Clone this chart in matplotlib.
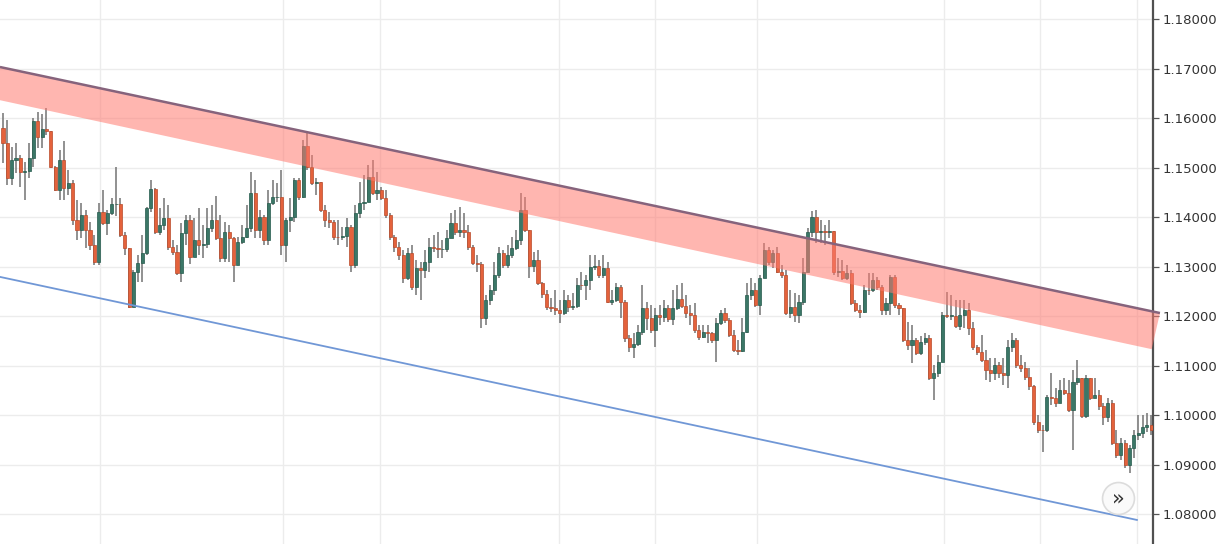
import numpy as np
import matplotlib
matplotlib.use("Agg")
import matplotlib.pyplot as plt
from matplotlib.patches import Polygon

# daily candles (open = previous close)
first_open = 1.1580
closes = [
    1.1550, 1.1479, 1.1515, 1.1519, 1.1491, 1.1493, 1.1519, 1.1594, 1.1562, 1.1578,
    1.1574, 1.1501, 1.1455, 1.1515, 1.1459, 1.1469, 1.1394, 1.1374, 1.1404, 1.1374,
    1.1344, 1.1309, 1.1410, 1.1388, 1.1408, 1.1426, 1.1427, 1.1364, 1.1337, 1.1218,
    1.1289, 1.1307, 1.1327, 1.1418, 1.1457, 1.1370, 1.1384, 1.1398, 1.1340, 1.1329,
    1.1287, 1.1368, 1.1394, 1.1319, 1.1354, 1.1344, 1.1346, 1.1378, 1.1394, 1.1358,
    1.1317, 1.1370, 1.1358, 1.1303, 1.1350, 1.1360, 1.1378, 1.1449, 1.1374, 1.1400,
    1.1354, 1.1428, 1.1440, 1.1441, 1.1344, 1.1394, 1.1400, 1.1475, 1.1440, 1.1543,
    1.1501, 1.1469, 1.1470, 1.1414, 1.1394, 1.1390, 1.1360, 1.1359, 1.1362, 1.1380,
    1.1303, 1.1408, 1.1428, 1.1430, 1.1481, 1.1449, 1.1455, 1.1438, 1.1404, 1.1360,
    1.1340, 1.1323, 1.1277, 1.1327, 1.1259, 1.1297, 1.1293, 1.1309, 1.1340, 1.1337,
    1.1335, 1.1336, 1.1358, 1.1388, 1.1370, 1.1374, 1.1370, 1.1340, 1.1307, 1.1306,
    1.1196, 1.1232, 1.1253, 1.1283, 1.1327, 1.1303, 1.1323, 1.1337, 1.1354, 1.1414,
    1.1374, 1.1301, 1.1313, 1.1267, 1.1245, 1.1218, 1.1217, 1.1212, 1.1206, 1.1232,
    1.1218, 1.1220, 1.1263, 1.1262, 1.1273, 1.1299, 1.1301, 1.1283, 1.1297, 1.1228,
    1.1232, 1.1259, 1.1228, 1.1156, 1.1137, 1.1144, 1.1168, 1.1216, 1.1196, 1.1172,
    1.1202, 1.1198, 1.1216, 1.1194, 1.1216, 1.1234, 1.1220, 1.1206, 1.1202, 1.1172,
    1.1158, 1.1168, 1.1166, 1.1152, 1.1186, 1.1206, 1.1192, 1.1162, 1.1131, 1.1130,
    1.1168, 1.1243, 1.1253, 1.1222, 1.1277, 1.1333, 1.1309, 1.1327, 1.1289, 1.1283,
    1.1206, 1.1218, 1.1202, 1.1228, 1.1289, 1.1370, 1.1400, 1.1370, 1.1371, 1.1369,
    1.1372, 1.1289, 1.1290, 1.1277, 1.1287, 1.1226, 1.1212, 1.1208, 1.1253, 1.1252,
    1.1273, 1.1259, 1.1212, 1.1226, 1.1279, 1.1222, 1.1216, 1.1152, 1.1142, 1.1152,
    1.1125, 1.1148, 1.1156, 1.1075, 1.1085, 1.1107, 1.1202, 1.1200, 1.1201, 1.1180,
    1.1202, 1.1212, 1.1176, 1.1137, 1.1127, 1.1111, 1.1091, 1.1085, 1.1101, 1.1085,
    1.1081, 1.1137, 1.1152, 1.1101, 1.1095, 1.1077, 1.1059, 1.0986, 1.0970, 1.0969,
    1.1036, 1.1035, 1.1024, 1.1051, 1.1045, 1.1010, 1.1067, 1.1075, 1.0998, 1.1075,
    1.1034, 1.1041, 1.1018, 1.0996, 1.1024, 1.0944, 1.0919, 1.0944, 1.0899, 1.0933,
    1.0960, 1.0964, 1.0976, 1.0980, 1.0970,
]
highs = [
    1.1610, 1.1596, 1.1541, 1.1550, 1.1525, 1.1511, 1.1550, 1.1600, 1.1612, 1.1608,
    1.1620, 1.1574, 1.1503, 1.1535, 1.1554, 1.1495, 1.1475, 1.1434, 1.1428, 1.1414,
    1.1390, 1.1364, 1.1428, 1.1455, 1.1414, 1.1438, 1.1501, 1.1438, 1.1370, 1.1321,
    1.1293, 1.1323, 1.1364, 1.1420, 1.1475, 1.1459, 1.1418, 1.1438, 1.1424, 1.1354,
    1.1344, 1.1388, 1.1404, 1.1404, 1.1398, 1.1418, 1.1384, 1.1418, 1.1424, 1.1443,
    1.1404, 1.1390, 1.1384, 1.1360, 1.1360, 1.1384, 1.1424, 1.1491, 1.1475, 1.1414,
    1.1404, 1.1455, 1.1475, 1.1469, 1.1495, 1.1398, 1.1438, 1.1479, 1.1479, 1.1556,
    1.1570, 1.1525, 1.1479, 1.1471, 1.1424, 1.1410, 1.1394, 1.1394, 1.1380, 1.1398,
    1.1384, 1.1424, 1.1471, 1.1485, 1.1505, 1.1515, 1.1491, 1.1461, 1.1455, 1.1408,
    1.1364, 1.1350, 1.1333, 1.1337, 1.1344, 1.1313, 1.1309, 1.1333, 1.1358, 1.1364,
    1.1370, 1.1354, 1.1374, 1.1408, 1.1414, 1.1420, 1.1408, 1.1384, 1.1344, 1.1323,
    1.1309, 1.1243, 1.1263, 1.1309, 1.1340, 1.1333, 1.1344, 1.1360, 1.1374, 1.1449,
    1.1440, 1.1370, 1.1329, 1.1333, 1.1269, 1.1253, 1.1236, 1.1253, 1.1232, 1.1253,
    1.1243, 1.1247, 1.1277, 1.1289, 1.1283, 1.1323, 1.1323, 1.1313, 1.1323, 1.1309,
    1.1253, 1.1267, 1.1263, 1.1232, 1.1162, 1.1166, 1.1182, 1.1263, 1.1228, 1.1222,
    1.1216, 1.1222, 1.1232, 1.1222, 1.1253, 1.1263, 1.1267, 1.1243, 1.1222, 1.1226,
    1.1182, 1.1182, 1.1182, 1.1168, 1.1196, 1.1212, 1.1216, 1.1196, 1.1172, 1.1152,
    1.1196, 1.1267, 1.1277, 1.1267, 1.1283, 1.1348, 1.1340, 1.1333, 1.1340, 1.1303,
    1.1293, 1.1253, 1.1247, 1.1243, 1.1317, 1.1378, 1.1412, 1.1414, 1.1394, 1.1384,
    1.1394, 1.1364, 1.1317, 1.1313, 1.1303, 1.1293, 1.1232, 1.1222, 1.1263, 1.1287,
    1.1287, 1.1279, 1.1263, 1.1236, 1.1283, 1.1283, 1.1226, 1.1212, 1.1188, 1.1182,
    1.1156, 1.1160, 1.1166, 1.1162, 1.1101, 1.1121, 1.1208, 1.1249, 1.1243, 1.1232,
    1.1232, 1.1232, 1.1226, 1.1188, 1.1142, 1.1162, 1.1131, 1.1115, 1.1115, 1.1107,
    1.1115, 1.1152, 1.1166, 1.1156, 1.1121, 1.1107, 1.1095, 1.1061, 1.1000, 1.0980,
    1.1041, 1.1085, 1.1055, 1.1071, 1.1075, 1.1071, 1.1091, 1.1111, 1.1075, 1.1081,
    1.1075, 1.1075, 1.1051, 1.1024, 1.1034, 1.1030, 1.0970, 1.0954, 1.0950, 1.0940,
    1.0970, 1.1000, 1.1000, 1.1004, 1.1000,
]
lows = [
    1.1509, 1.1465, 1.1465, 1.1489, 1.1461, 1.1434, 1.1479, 1.1501, 1.1539, 1.1539,
    1.1566, 1.1499, 1.1453, 1.1434, 1.1434, 1.1445, 1.1384, 1.1354, 1.1358, 1.1337,
    1.1333, 1.1303, 1.1303, 1.1384, 1.1364, 1.1404, 1.1402, 1.1360, 1.1323, 1.1216,
    1.1218, 1.1269, 1.1269, 1.1323, 1.1410, 1.1366, 1.1364, 1.1374, 1.1333, 1.1323,
    1.1283, 1.1269, 1.1344, 1.1305, 1.1323, 1.1323, 1.1317, 1.1337, 1.1370, 1.1354,
    1.1309, 1.1309, 1.1309, 1.1269, 1.1303, 1.1346, 1.1358, 1.1370, 1.1358, 1.1358,
    1.1344, 1.1344, 1.1424, 1.1430, 1.1323, 1.1309, 1.1370, 1.1390, 1.1434, 1.1438,
    1.1495, 1.1465, 1.1445, 1.1410, 1.1380, 1.1378, 1.1354, 1.1344, 1.1354, 1.1340,
    1.1289, 1.1297, 1.1398, 1.1414, 1.1434, 1.1445, 1.1434, 1.1434, 1.1398, 1.1354,
    1.1329, 1.1313, 1.1267, 1.1273, 1.1253, 1.1243, 1.1232, 1.1277, 1.1289, 1.1329,
    1.1317, 1.1317, 1.1329, 1.1358, 1.1364, 1.1360, 1.1358, 1.1333, 1.1303, 1.1289,
    1.1176, 1.1182, 1.1222, 1.1243, 1.1277, 1.1297, 1.1297, 1.1317, 1.1333, 1.1344,
    1.1370, 1.1277, 1.1289, 1.1263, 1.1236, 1.1212, 1.1208, 1.1202, 1.1186, 1.1202,
    1.1208, 1.1212, 1.1216, 1.1253, 1.1232, 1.1253, 1.1293, 1.1277, 1.1277, 1.1226,
    1.1222, 1.1228, 1.1196, 1.1148, 1.1127, 1.1115, 1.1140, 1.1162, 1.1172, 1.1166,
    1.1137, 1.1182, 1.1188, 1.1188, 1.1182, 1.1212, 1.1216, 1.1196, 1.1182, 1.1166,
    1.1152, 1.1156, 1.1146, 1.1146, 1.1107, 1.1182, 1.1186, 1.1158, 1.1127, 1.1121,
    1.1127, 1.1166, 1.1232, 1.1218, 1.1202, 1.1277, 1.1303, 1.1297, 1.1287, 1.1277,
    1.1202, 1.1196, 1.1188, 1.1186, 1.1222, 1.1289, 1.1360, 1.1348, 1.1348, 1.1344,
    1.1358, 1.1283, 1.1279, 1.1273, 1.1273, 1.1222, 1.1208, 1.1196, 1.1206, 1.1243,
    1.1249, 1.1253, 1.1202, 1.1202, 1.1202, 1.1216, 1.1202, 1.1148, 1.1131, 1.1105,
    1.1121, 1.1121, 1.1142, 1.1071, 1.1030, 1.1077, 1.1107, 1.1196, 1.1192, 1.1176,
    1.1172, 1.1176, 1.1162, 1.1131, 1.1121, 1.1107, 1.1071, 1.1067, 1.1071, 1.1075,
    1.1061, 1.1055, 1.1127, 1.1095, 1.1087, 1.1071, 1.1051, 1.0980, 1.0964, 1.0925,
    1.0966, 1.1020, 1.1016, 1.1024, 1.1041, 1.1006, 1.0929, 1.1061, 1.0994, 1.0994,
    1.1030, 1.1034, 1.1010, 1.0980, 1.0986, 1.0940, 1.0913, 1.0909, 1.0893, 1.0883,
    1.0913, 1.0950, 1.0954, 1.0966, 1.0960,
]

# drawn objects (bar index, price)
band_top = [(-0.7, 1.1703), (266.0, 1.1206)]
band_bottom = [(-0.7, 1.1636), (264.1, 1.1133)]
support_line = [(-0.7, 1.1279), (260.7, 1.0788)]

# month separators (bar index) and price ticks
month_lines = [22.3, 64.4, 86.7, 127.8, 149.9, 173.3, 216.3, 238.4, 260.7]
price_ticks = [1.08, 1.09, 1.10, 1.11, 1.12, 1.13, 1.14, 1.15, 1.16, 1.17, 1.18]

close = np.array(closes)
opn = np.concatenate([[first_open], close[:-1]])
high = np.maximum(np.array(highs), np.maximum(opn, close))
low = np.minimum(np.array(lows), np.minimum(opn, close))
idx = np.arange(len(close))
up = close >= opn

fig = plt.figure(figsize=(12.25, 5.44), dpi=100)
ax = fig.add_axes([0, 0, 1153 / 1225, 1])

# wicks and bodies
ax.vlines(idx, low, high, color="#737373", lw=1.1, zorder=2)
body_lo = np.minimum(opn, close)
body_h = np.maximum(np.abs(close - opn), 0.00012)
ax.bar(idx[up], body_h[up], bottom=body_lo[up], width=0.72,
       color="#3b7767", edgecolor="#24594b", lw=0.5, zorder=3)
ax.bar(idx[~up], body_h[~up], bottom=body_lo[~up], width=0.72,
       color="#e4623c", edgecolor="#b84a2a", lw=0.5, zorder=3)

# red resistance band, it runs a little past the price scale edge
poly = Polygon([band_top[0], band_top[1], band_bottom[1], band_bottom[0]],
               closed=True, facecolor="#ff7a70", alpha=0.55, edgecolor="none",
               zorder=6, clip_on=False)
ax.add_patch(poly)
ax.plot([p[0] for p in band_top], [p[1] for p in band_top],
        color="#86637c", lw=1.8, zorder=7, solid_capstyle="butt", clip_on=False)
ax.plot([p[0] for p in support_line], [p[1] for p in support_line],
        color="#7097d6", lw=1.3, zorder=5)

ax.set_xlim(-0.69, 264.4)
ax.set_ylim(1.07394, 1.18384)

ax.set_xticks(month_lines)
ax.set_yticks(price_ticks)
ax.set_yticklabels([f"{t:.5f}" for t in price_ticks])
ax.grid(True, color="#ececec", lw=1.0, zorder=0)
ax.set_axisbelow(True)

for s in ["left", "top", "bottom"]:
    ax.spines[s].set_visible(False)
ax.spines["right"].set_color("#505050")
ax.spines["right"].set_linewidth(1.6)
ax.yaxis.tick_right()
ax.tick_params(axis="y", direction="out", length=4, width=0.9, color="#555555",
               labelsize=9.5, labelcolor="#333333", pad=3)
ax.tick_params(axis="x", length=0, labelbottom=False)

# scroll button
ax.plot([0.9697], [0.0846], marker="o", markersize=23, markerfacecolor="#fafafa",
        markeredgecolor="#dcdcdc", markeredgewidth=1.2, transform=ax.transAxes,
        zorder=8, clip_on=False)
ax.text(0.9697, 0.0846, "»", transform=ax.transAxes, ha="center", va="center",
        fontsize=15, color="#333333", zorder=9)

fig.savefig("out.png", dpi=100)
